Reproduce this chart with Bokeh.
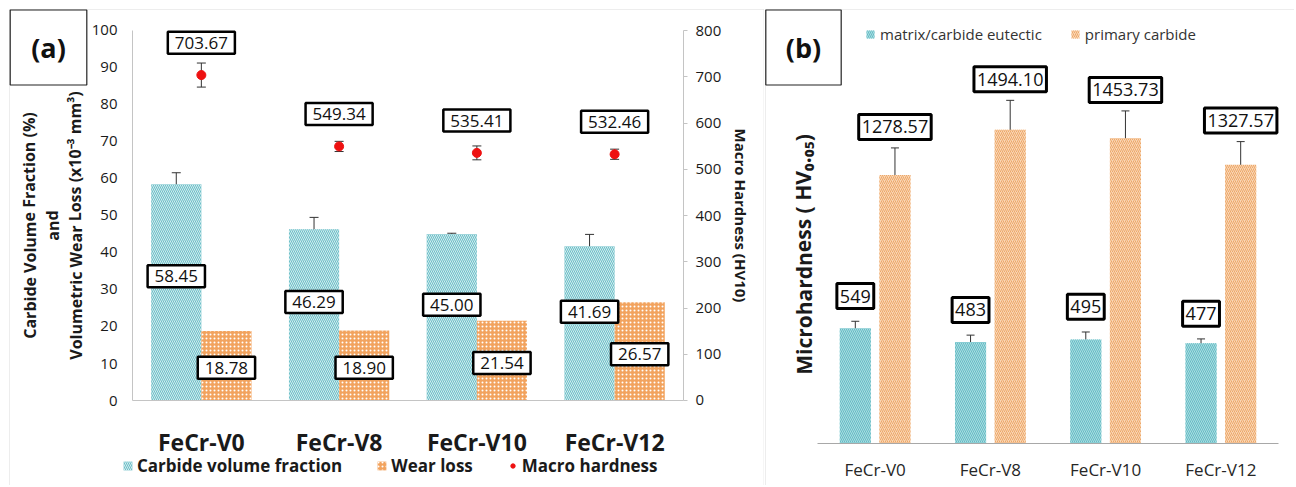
from bokeh.plotting import figure
from bokeh.models import (Range1d, LinearAxis, ColumnDataSource, Whisker, Label,
                          Legend, LegendItem, FixedTicker, TeeHead, BoxAnnotation)
from bokeh.transform import dodge
from bokeh.layouts import row
from bokeh.embed import file_html
from bokeh.resources import INLINE

# ---------------- data ----------------
categories = ["FeCr-V0", "FeCr-V8", "FeCr-V10", "FeCr-V12"]
carbide_fraction = [58.45, 46.29, 45.00, 41.69]
carbide_err = [3.1, 3.2, 0.2, 3.2]
wear_loss = [18.78, 18.90, 21.54, 26.57]
macro_hardness = [703.67, 549.34, 535.41, 532.46]
macro_err = [26, 11, 15, 11]
left_ticks = [0, 10, 20, 30, 40, 50, 60, 70, 80, 90, 100]
right_ticks = [0, 100, 200, 300, 400, 500, 600, 700, 800]

eutectic_hv = [549, 483, 495, 477]
eutectic_err = [33, 33, 36, 21]
primary_hv = [1278.57, 1494.10, 1453.73, 1327.57]
primary_err = [129, 140, 130, 110]

FONT = "Open Sans"
GRAY = "#c4c4c4"
TXT = "#1a1a1a"
H = 485
xc = [i + 0.5 for i in range(len(categories))]          # category centres
cat_labels = {x: c for x, c in zip(xc, categories)}

# ---------------- panel (a) ----------------
WA = 764
pa = figure(width=WA, height=H, x_range=Range1d(-0.958, 4.588), y_range=Range1d(-22.97, 108.1),
            output_backend="svg", toolbar_location=None, min_border=0)
pa.extra_y_ranges = {"hv": Range1d(-183.8, 864.9)}
pa.outline_line_color = None
pa.grid.visible = False

pa.add_layout(BoxAnnotation(left=9, right=763.5, bottom=-20, top=476,
                            left_units="screen", right_units="screen",
                            bottom_units="screen", top_units="screen",
                            fill_alpha=0, line_color=GRAY, line_width=1))

src_a = ColumnDataSource(dict(
    xc=xc, cvf=carbide_fraction,
    cvf_up=[v + e for v, e in zip(carbide_fraction, carbide_err)],
    cvf_lo=[v - e for v, e in zip(carbide_fraction, carbide_err)],
    wear=wear_loss, hv=macro_hardness,
    hv_up=[v + e for v, e in zip(macro_hardness, macro_err)],
    hv_lo=[v - e for v, e in zip(macro_hardness, macro_err)],
))

OFF_A = 0.182
BW_A = 0.364
r_cvf = pa.vbar(x=dodge("xc", -OFF_A), top="cvf", width=BW_A, source=src_a,
                fill_color="#6cbfc8", line_color=None, hatch_pattern="\\", hatch_color="white",
                hatch_scale=4, hatch_weight=0.7)
r_wear = pa.vbar(x=dodge("xc", OFF_A), top="wear", width=BW_A, source=src_a,
                 fill_color="#f2a35e", line_color=None, hatch_pattern=".", hatch_color="white",
                 hatch_scale=4, hatch_weight=1.5)
pa.add_layout(Whisker(source=src_a, base=dodge("xc", -OFF_A), upper="cvf_up",
                      lower="cvf_lo", line_color="#333333", line_width=1,
                      upper_head=TeeHead(size=9, line_color="#333333", line_width=1),
                      lower_head=TeeHead(size=9, line_color="#333333", line_width=1)))
pa.add_layout(Whisker(source=src_a, base="xc", upper="hv_up", lower="hv_lo", y_range_name="hv",
                      line_color="#333333", line_width=1,
                      upper_head=TeeHead(size=9, line_color="#333333", line_width=1),
                      lower_head=TeeHead(size=9, line_color="#333333", line_width=1)))
r_hv = pa.scatter(x="xc", y="hv", source=src_a, y_range_name="hv", size=9,
                  fill_color="#ee1111", line_color="#ee1111")

ya = pa.yaxis[0]
ya.fixed_location = 0
ya.bounds = (0, 100)
ya.ticker = FixedTicker(ticks=left_ticks)
ya.major_tick_line_color = None
ya.major_tick_out = 0
ya.major_tick_in = 0
ya.minor_tick_line_color = None
ya.axis_line_color = GRAY
ya.major_label_standoff = 15
ya.major_label_text_font = FONT
ya.major_label_text_font_size = "15px"
ya.major_label_text_color = TXT

ra = LinearAxis(y_range_name="hv", ticker=FixedTicker(ticks=right_ticks),
                axis_label="Macro Hardness (HV10)", fixed_location=len(categories),
                bounds=(0, 800))
ra.axis_line_color = GRAY
ra.major_tick_line_color = GRAY
ra.major_tick_in = 0
ra.major_tick_out = 4
ra.minor_tick_line_color = None
ra.major_label_standoff = 8
ra.major_label_text_font = FONT
ra.major_label_text_font_size = "15px"
ra.major_label_text_color = TXT
ra.axis_label_text_font = FONT
ra.axis_label_text_font_style = "bold"
ra.axis_label_text_font_size = "15px"
ra.axis_label_text_color = TXT
ra.axis_label_standoff = 7
pa.add_layout(ra, "right")

xa = pa.xaxis[0]
xa.fixed_location = 0
xa.bounds = (0, len(categories))
xa.ticker = FixedTicker(ticks=xc)
xa.major_label_overrides = cat_labels
xa.axis_line_color = GRAY
xa.major_tick_line_color = None
xa.major_tick_out = 0
xa.major_tick_in = 0
xa.minor_tick_line_color = None
xa.major_label_standoff = 25
xa.major_label_text_font = FONT
xa.major_label_text_font_size = "23px"
xa.major_label_text_font_style = "bold"
xa.major_label_text_color = TXT

leg_a = Legend(items=[LegendItem(label="Carbide volume fraction", renderers=[r_cvf]),
                      LegendItem(label="Wear loss", renderers=[r_wear]),
                      LegendItem(label="Macro hardness", renderers=[r_hv])],
               orientation="horizontal", location=(122, 8), border_line_color=None,
               background_fill_alpha=0, padding=2, margin=0, spacing=34, glyph_width=11,
               glyph_height=11, label_standoff=4, label_text_font=FONT,
               label_text_font_size="17px", label_text_font_style="bold",
               label_text_color=TXT, label_height=18)
pa.add_layout(leg_a)

for txt, sx in [("Carbide Volume Fraction (%)", 29), ("and", 52),
                ("Volumetric Wear Loss (x10\u207b\u00b3 mm\u00b3)", 75)]:
    pa.add_layout(Label(x=sx, y=260, x_units="screen", y_units="screen", text=txt, angle=1.5708,
                        text_align="center", text_baseline="middle", text_font=FONT,
                        text_font_size="16px", text_font_style="bold", text_color=TXT))

pa.add_layout(Label(x=48, y=438, x_units="screen", y_units="screen", text="(a)",
                    text_align="center", text_baseline="middle", text_font=FONT,
                    text_font_size="27px", text_font_style="bold", text_color="#111111",
                    border_line_color="#222222", border_line_width=1.2,
                    background_fill_color="white", padding=dict(left=21, right=21, top=19, bottom=19)))

BOX = dict(text_align="center", text_baseline="middle", text_font=FONT, text_font_size="17px",
           text_color="#111111", border_line_color="black", border_line_width=2.5,
           background_fill_color="white", padding=dict(left=7, right=7, top=5, bottom=5))
for x, v in zip(xc, carbide_fraction):
    pa.add_layout(Label(x=x - OFF_A, y=v * 0.575, text=f"{v:.2f}", **BOX))
for x, v in zip(xc, wear_loss):
    pa.add_layout(Label(x=x + OFF_A, y=v * 0.47, text=f"{v:.2f}", **BOX))
for x, v in zip(xc, macro_hardness):
    pa.add_layout(Label(x=x, y=v + 70, y_range_name="hv", text=f"{v:.2f}", **BOX))

# ---------------- panel (b) ----------------
WB = 530
pb = figure(width=WB, height=H, x_range=Range1d(-0.46, 4.139), y_range=Range1d(-200, 2109.5),
            output_backend="svg", toolbar_location=None, min_border=0)
pb.outline_line_color = None
pb.grid.visible = False
pb.yaxis.visible = False

pb.add_layout(BoxAnnotation(left=1, right=700, bottom=-20, top=476,
                            left_units="screen", right_units="screen",
                            bottom_units="screen", top_units="screen",
                            fill_alpha=0, line_color=GRAY, line_width=1))

src_b = ColumnDataSource(dict(
    xc=xc, eu=eutectic_hv, pr=primary_hv,
    eu_up=[v + e for v, e in zip(eutectic_hv, eutectic_err)],
    eu_lo=[v - e for v, e in zip(eutectic_hv, eutectic_err)],
    pr_up=[v + e for v, e in zip(primary_hv, primary_err)],
    pr_lo=[v - e for v, e in zip(primary_hv, primary_err)],
))
OFF_B = 0.172
BW_B = 0.27
r_eu = pb.vbar(x=dodge("xc", -OFF_B), top="eu", width=BW_B, source=src_b,
               fill_color="#a9dde1", line_color=None, hatch_pattern="\\", hatch_color="#5fb8c2",
               hatch_scale=4, hatch_weight=0.9)
r_pr = pb.vbar(x=dodge("xc", OFF_B), top="pr", width=BW_B, source=src_b,
               fill_color="#f9d6b4", line_color=None, hatch_pattern="/", hatch_color="#eda769",
               hatch_scale=4, hatch_weight=1.0)
for off, up, lo in [(-OFF_B, "eu_up", "eu_lo"), (OFF_B, "pr_up", "pr_lo")]:
    pb.add_layout(Whisker(source=src_b, base=dodge("xc", off), upper=up,
                          lower=lo, line_color="#333333", line_width=1,
                          upper_head=TeeHead(size=8, line_color="#333333", line_width=1),
                          lower_head=TeeHead(size=8, line_color="#333333", line_width=1)))

xb = pb.xaxis[0]
xb.fixed_location = 0
xb.bounds = (0, len(categories))
xb.ticker = FixedTicker(ticks=xc)
xb.major_label_overrides = cat_labels
xb.axis_line_color = "#a8a8a8"
xb.major_tick_line_color = None
xb.major_tick_out = 0
xb.major_tick_in = 0
xb.minor_tick_line_color = None
xb.major_label_standoff = 15
xb.major_label_text_font = FONT
xb.major_label_text_font_size = "17px"
xb.major_label_text_color = "#262626"

leg_b = Legend(items=[LegendItem(label="matrix/carbide eutectic", renderers=[r_eu]),
                      LegendItem(label="primary carbide", renderers=[r_pr])],
               orientation="horizontal", location=(101, 441), border_line_color=None,
               background_fill_alpha=0, padding=2, margin=0, spacing=28, glyph_width=10,
               glyph_height=10, label_standoff=5, label_text_font=FONT,
               label_text_font_size="15px", label_text_color="#333333", label_height=18)
pb.add_layout(leg_b)

pb.add_layout(Label(x=39, y=231, x_units="screen", y_units="screen",
                    text="Microhardness ( HV\u2080.\u2080\u2085)", angle=1.5708,
                    text_align="center", text_baseline="middle", text_font=FONT,
                    text_font_size="21px", text_font_style="bold", text_color=TXT))
pb.add_layout(Label(x=39, y=438, x_units="screen", y_units="screen", text="(b)",
                    text_align="center", text_baseline="middle", text_font=FONT,
                    text_font_size="27px", text_font_style="bold", text_color="#111111",
                    border_line_color="#222222", border_line_width=1.2,
                    background_fill_color="white", padding=dict(left=20, right=20, top=19, bottom=19)))

BOXB = dict(BOX)
BOXB.update(text_font_size="18px", border_line_width=3,
            padding=dict(left=3, right=3, top=6, bottom=6))
for x, v, e in zip(xc, eutectic_hv, eutectic_err):
    pb.add_layout(Label(x=x - OFF_B, y=v + e + 120, text=f"{v}", **BOXB))
for x, v, e in zip(xc, primary_hv, primary_err):
    pb.add_layout(Label(x=x + OFF_B, y=v + e + 100, text=f"{v:.2f}", **BOXB))

layout = row(pa, pb, spacing=0)
open("out.html", "w").write(file_html(layout, INLINE))
